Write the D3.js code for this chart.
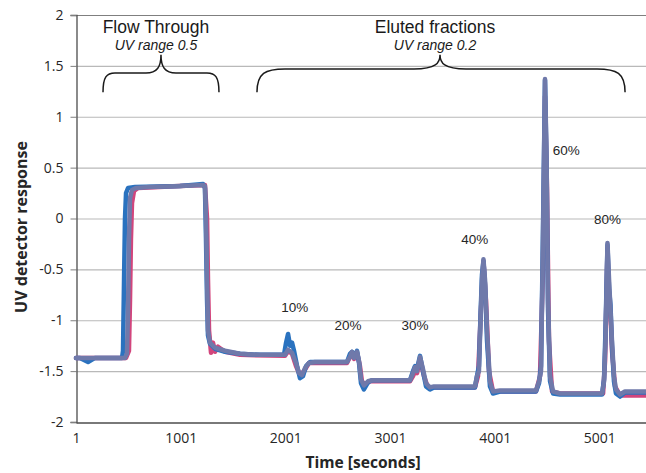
<!DOCTYPE html>
<html>
<head>
<meta charset="utf-8">
<script src="https://cdn.jsdelivr.net/npm/d3@7"></script>
<style>
  body { margin: 0; background: #fff; }
  svg { display: block; }
</style>
</head>
<body>
<div id="chart"></div>
<script>
// size of the picture and of the plot area
var W = 646, H = 473;
var margin = {top: 15, right: 0, bottom: 51, left: 76};

// axis ticks
var yTicks = [2, 1.5, 1, 0.5, 0, -0.5, -1, -1.5, -2];
var xTicks = [1, 1001, 2001, 3001, 4001, 5001];

// three runs, [time, response]
var pinkRun = [[1,-1.37],[479,-1.37],[507,-1.3],[517,-0.8],[526,-0.2],[536,0.15],[555,0.27],[593,0.30],
  [995,0.32],[1233,0.33],[1253,0.0],[1262,-0.6],[1272,-1.1],[1291,-1.32],[1310,-1.22],[1329,-1.31],
  [1358,-1.26],[1425,-1.31],[1568,-1.34],[1998,-1.35],[2027,-1.30],[2065,-1.33],[2103,-1.45],
  [2141,-1.54],[2180,-1.50],[2227,-1.42],[2590,-1.42],[2638,-1.32],[2657,-1.38],[2686,-1.32],
  [2714,-1.45],[2733,-1.60],[2762,-1.63],[2810,-1.60],[3192,-1.60],[3221,-1.55],[3240,-1.50],
  [3259,-1.52],[3288,-1.38],[3326,-1.55],[3364,-1.66],[3421,-1.66],[3813,-1.66],[3842,-1.55],
  [3870,-0.9],[3894,-0.42],[3918,-0.8],[3947,-1.5],[3985,-1.70],[4396,-1.70],[4434,-1.55],
  [4463,-0.5],[4482,1.2],[4501,0.3],[4520,-1.2],[4549,-1.7],[4626,-1.72],[5037,-1.72],[5056,-1.4],
  [5079,-0.30],[5094,-0.85],[5108,-0.95],[5122,-1.3],[5151,-1.65],[5199,-1.74],[5447,-1.74]];

var blueRun = [[1,-1.37],[39,-1.37],[116,-1.41],[183,-1.37],[441,-1.37],[450,-1.3],[460,-0.6],
  [469,0.0],[479,0.25],[498,0.30],[565,0.31],[995,0.32],[1214,0.34],[1233,0.3],[1243,-0.2],
  [1253,-0.8],[1262,-1.15],[1281,-1.23],[1329,-1.28],[1425,-1.31],[1568,-1.33],[1759,-1.34],
  [1988,-1.34],[2008,-1.22],[2027,-1.135],[2046,-1.25],[2065,-1.22],[2084,-1.30],[2113,-1.45],
  [2141,-1.57],[2170,-1.55],[2199,-1.45],[2237,-1.41],[2590,-1.41],[2619,-1.33],[2638,-1.31],
  [2657,-1.36],[2686,-1.30],[2705,-1.42],[2724,-1.62],[2752,-1.68],[2791,-1.61],[2829,-1.59],
  [3192,-1.59],[3221,-1.50],[3240,-1.45],[3259,-1.48],[3288,-1.35],[3316,-1.50],[3345,-1.65],
  [3383,-1.68],[3421,-1.66],[3813,-1.66],[3832,-1.55],[3851,-1.45],[3866,-0.95],[3880,-0.55],
  [3894,-0.42],[3909,-0.65],[3928,-1.2],[3956,-1.65],[3985,-1.72],[4052,-1.70],[4396,-1.70],
  [4425,-1.62],[4444,-1.45],[4463,-0.1],[4482,1.36],[4497,0.5],[4511,-0.9],[4530,-1.6],
  [4559,-1.72],[4626,-1.73],[5027,-1.73],[5046,-1.58],[5060,-1.1],[5079,-0.26],[5094,-0.7],
  [5108,-0.85],[5122,-1.25],[5141,-1.6],[5160,-1.72],[5199,-1.75],[5246,-1.71],[5447,-1.71]];

var greyRun = [[1,-1.37],[230,-1.37],[469,-1.37],[488,-1.33],[498,-0.9],[507,-0.2],[517,0.2],
  [536,0.28],[574,0.30],[708,0.31],[995,0.32],[1214,0.33],[1233,0.32],[1243,0.0],[1253,-0.6],
  [1262,-1.1],[1281,-1.22],[1329,-1.27],[1425,-1.30],[1568,-1.33],[1759,-1.34],[1998,-1.34],
  [2027,-1.29],[2065,-1.32],[2103,-1.42],[2132,-1.52],[2160,-1.54],[2189,-1.47],[2227,-1.42],
  [2285,-1.41],[2590,-1.41],[2619,-1.36],[2638,-1.31],[2657,-1.37],[2686,-1.31],[2705,-1.40],
  [2724,-1.58],[2752,-1.64],[2791,-1.60],[2829,-1.59],[3192,-1.59],[3221,-1.52],[3240,-1.46],
  [3259,-1.50],[3288,-1.36],[3316,-1.48],[3345,-1.62],[3383,-1.66],[3421,-1.65],[3813,-1.65],
  [3832,-1.55],[3851,-1.50],[3866,-1.0],[3880,-0.6],[3894,-0.40],[3909,-0.6],[3928,-1.1],
  [3956,-1.6],[3985,-1.70],[4052,-1.69],[4396,-1.69],[4425,-1.60],[4444,-1.50],[4463,-0.2],
  [4482,1.37],[4497,0.6],[4511,-0.8],[4530,-1.55],[4559,-1.70],[4626,-1.72],[5027,-1.72],
  [5046,-1.60],[5060,-1.2],[5079,-0.24],[5094,-0.6],[5108,-0.9],[5122,-1.2],[5141,-1.55],
  [5160,-1.68],[5199,-1.73],[5246,-1.70],[5447,-1.70]];

// peak labels: text, time, response at baseline
var peakNames = ["10%", "20%", "30%", "40%", "60%", "80%"];
var peakT = [2090, 2600, 3240, 3810, 4685, 5080];
var peakV = [-0.92, -1.1, -1.1, -0.25, 0.62, -0.05];

// brace groups: title, subtitle, start, tip, end (time) and levels
var groupNames = ["Flow Through", "Eluted fractions"];
var groupSub = ["UV range 0.5", "UV range 0.2"];
var groupStart = [259, 1730];
var groupTip = [813, 3479];
var groupEnd = [1367, 5247];
var groupBar = [1.43, 1.47];

var svg = d3.select("#chart").append("svg")
    .attr("width", W)
    .attr("height", H);

var x = d3.scaleLinear().domain([1, 5447]).range([margin.left, W - margin.right]);
var y = d3.scaleLinear().domain([-2, 2]).range([H - margin.bottom, margin.top]);

// gridlines
svg.append("g").selectAll("line")
    .data(yTicks.filter(function(d){ return d > -2; }))
    .enter().append("line")
    .attr("x1", x(1)).attr("x2", W)
    .attr("y1", function(d){ return y(d) + 0.5; })
    .attr("y2", function(d){ return y(d) + 0.5; })
    .attr("stroke", function(d){ return d == 2 ? "#7f7f7f" : "#b9b9b9"; })
    .attr("stroke-width", 1.2);

// y axis
var yAxis = svg.append("g")
    .attr("transform", "translate(" + (margin.left + 0.5) + ",0)")
    .call(d3.axisLeft(y).tickValues(yTicks).tickSize(6).tickPadding(7)
      .tickFormat(function(d){ return String(d); }));
yAxis.select(".domain").attr("stroke", "#4d4d4d").attr("stroke-width", 1.3);
yAxis.selectAll(".tick line").attr("stroke", "#7f7f7f");
yAxis.selectAll("text")
    .attr("font-family", "Open Sans, sans-serif")
    .attr("font-size", "14px")
    .attr("fill", "#262626");

// x axis
var xAxis = svg.append("g")
    .attr("transform", "translate(0," + (y(-2) + 0.5) + ")")
    .call(d3.axisBottom(x).tickValues(xTicks).tickSize(0).tickPadding(11)
      .tickFormat(d3.format("d")));
xAxis.select(".domain").attr("stroke", "#4d4d4d").attr("stroke-width", 1.3);
xAxis.selectAll("text")
    .attr("font-family", "Open Sans, sans-serif")
    .attr("font-size", "14px")
    .attr("fill", "#262626");

// traces
var line = d3.line()
    .x(function(d){ return x(d[0]); })
    .y(function(d){ return y(d[1]); });

var runs = [pinkRun, blueRun, greyRun];
var runColors = ["#d2457c", "#2a72bf", "#6f79aa"];
svg.append("g").selectAll("path")
    .data(runs)
    .enter().append("path")
    .attr("d", line)
    .attr("fill", "none")
    .attr("stroke", function(d, i){ return runColors[i]; })
    .attr("stroke-width", 4.5)
    .attr("stroke-linejoin", "round")
    .attr("stroke-linecap", "round");

// peak labels
svg.append("g").selectAll("text")
    .data(peakNames)
    .enter().append("text")
    .attr("x", function(d, i){ return x(peakT[i]); })
    .attr("y", function(d, i){ return y(peakV[i]); })
    .attr("text-anchor", "middle")
    .attr("font-family", "Liberation Sans, Arial, sans-serif")
    .attr("font-size", "13.5px")
    .attr("fill", "#262626")
    .text(function(d){ return d; });

// braces
function brace(i){
  var x0 = x(groupStart[i]), x1 = x(groupEnd[i]), xt = x(groupTip[i]);
  var yE = y(1.24), yB = y(groupBar[i]), yT = y(1.61);
  var r = i == 0 ? 12 : 28;
  var r2 = i == 0 ? 11 : 22;
  return "M" + x0 + "," + yE +
    "C" + x0 + "," + (yB + 4) + " " + (x0 + r * 0.3) + "," + yB + " " + (x0 + r) + "," + yB +
    "L" + (xt - r2 - 4) + "," + yB +
    "C" + (xt - 4) + "," + yB + " " + xt + "," + (yB - 6) + " " + xt + "," + yT +
    "C" + xt + "," + (yB - 6) + " " + (xt + 4) + "," + yB + " " + (xt + r2 + 4) + "," + yB +
    "L" + (x1 - r) + "," + yB +
    "C" + (x1 - r * 0.3) + "," + yB + " " + x1 + "," + (yB + 4) + " " + x1 + "," + yE;
}

var groups = svg.append("g").selectAll("g")
    .data(groupNames)
    .enter().append("g");
groups.append("path")
    .attr("d", function(d, i){ return brace(i); })
    .attr("fill", "none")
    .attr("stroke", "#1a1a1a")
    .attr("stroke-width", 1.5);
groups.append("text")
    .attr("x", function(d, i){ return x(groupTip[i]) - 5; })
    .attr("y", 33)
    .attr("text-anchor", "middle")
    .attr("font-family", "Liberation Sans, Arial, sans-serif")
    .attr("font-size", "17.5px")
    .attr("fill", "#1a1a1a")
    .text(function(d){ return d; });
groups.append("text")
    .attr("x", function(d, i){ return x(groupTip[i]) - 5; })
    .attr("y", 50)
    .attr("text-anchor", "middle")
    .attr("font-family", "Liberation Sans, Arial, sans-serif")
    .attr("font-style", "italic")
    .attr("font-size", "14px")
    .attr("fill", "#1a1a1a")
    .text(function(d, i){ return groupSub[i]; });

// axis titles
svg.append("text")
    .attr("x", 363)
    .attr("y", 468)
    .attr("text-anchor", "middle")
    .attr("font-family", "Open Sans, sans-serif")
    .attr("font-weight", "bold")
    .attr("font-size", "15.6px")
    .attr("fill", "#262626")
    .text("Time [seconds]");

svg.append("text")
    .attr("transform", "translate(27,227) rotate(-90)")
    .attr("text-anchor", "middle")
    .attr("font-family", "Open Sans, sans-serif")
    .attr("font-weight", "bold")
    .attr("font-size", "16px")
    .attr("fill", "#262626")
    .text("UV detector response");
</script>
</body>
</html>
